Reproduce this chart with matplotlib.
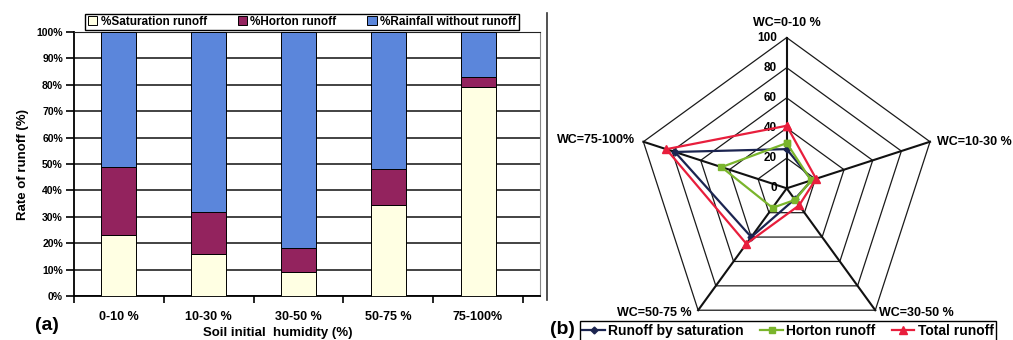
import numpy as np
import matplotlib
matplotlib.use("Agg")
import matplotlib.pyplot as plt
from matplotlib.lines import Line2D

plt.rcParams['font.family'] = ['Liberation Sans', 'DejaVu Sans']
plt.rcParams['font.weight'] = 'bold'

# ---- data (a) ----
humidity_classes = ["0-10 %", "10-30 %", "30-50 %", "50-75 %", "75-100%"]
saturation_pct = [23, 16, 9, 34.5, 79]
horton_pct = [26, 16, 9, 13.5, 4]
rainfall_pct = [100 - s - h for s, h in zip(saturation_pct, horton_pct)]
y_ticks = [0, 10, 20, 30, 40, 50, 60, 70, 80, 90, 100]

# ---- data (b) ----
wc_labels = ["WC=0-10 %", "WC=10-30 %", "WC=30-50 %", "WC=50-75 %", "WC=75-100%"]
radar_saturation = [26, 17.5, 9, 40, 78]
radar_horton = [30, 17, 9.5, 16, 45.5]
radar_total = [41.5, 20.5, 14, 45.5, 84]
radar_rings = [20, 40, 60, 80, 100]
radar_ticks = [0, 20, 40, 60, 80, 100]

W, H = 1013, 340
fig = plt.figure(figsize=(W / 100, H / 100), dpi=100)

def fx(px):
    return px / W

def fy(py):
    return 1 - py / H

# ---------------- panel (a) ----------------
ax = fig.add_axes([fx(74), fy(296), fx(540 - 74), (296 - 32) / H])
x = np.arange(len(humidity_classes))
cream = "#FFFFE3"
maroon = "#93235E"
blue = "#5B86DB"
bw = 0.39
ax.bar(x, saturation_pct, bw, color=cream, edgecolor="black", lw=0.7, zorder=3,
       label="%Saturation runoff")
ax.bar(x, horton_pct, bw, bottom=saturation_pct, color=maroon, edgecolor="black", lw=0.7,
       zorder=3, label="%Horton runoff")
ax.bar(x, rainfall_pct, bw, bottom=np.add(saturation_pct, horton_pct), color=blue,
       edgecolor="black", lw=0.7, zorder=3, label="%Rainfall without runoff")
ax.set_xlim(-0.5, 4.69)
ax.set_ylim(0, 100)
ax.set_yticks(y_ticks)
ax.set_yticklabels([f"{v}%" for v in y_ticks], fontsize=7.5, fontweight='bold')
ax.set_xticks(np.arange(len(humidity_classes) + 1) - 0.5)
ax.set_xticklabels([])
ax.set_xticks(x, minor=True)
ax.set_xticklabels(humidity_classes, minor=True, fontsize=9, fontweight='bold')
ax.tick_params(axis='x', which='minor', length=0, pad=11)
ax.tick_params(axis='x', which='major', length=5, direction='out', width=1.2)
ax.tick_params(axis='y', length=6, width=1.2, pad=2)
ax.yaxis.grid(True, color="#222222", lw=1.2, zorder=0)
ax.set_axisbelow(True)
for s in ['left', 'bottom']:
    ax.spines[s].set_linewidth(1.3)
ax.spines['right'].set_color("#888888")
ax.spines['top'].set_color("#222222")
ax.set_ylabel("Rate of runoff (%)", fontsize=9.5, fontweight='bold', labelpad=5)
fig.text(fx(278), fy(333), "Soil initial  humidity (%)", ha='center', va='center',
         fontsize=9.5, fontweight='bold')
fig.text(fx(35), fy(325), "(a)", ha='left', va='center', fontsize=14, fontweight='bold')
leg = fig.legend(loc='center', bbox_to_anchor=(fx(302), fy(22)), ncol=3,
                 fontsize=8.5, handlelength=0.8, handleheight=0.8, handletextpad=0.3,
                 columnspacing=2.6, borderpad=0.2, fancybox=False, framealpha=1,
                 edgecolor='black')
leg.get_frame().set_linewidth(1.0)
for t in leg.get_texts():
    t.set_fontweight('bold')

# separator
fig.add_artist(Line2D([fx(547), fx(547)], [fy(13), fy(300)], color='#333333', lw=1.2))

# ---------------- panel (b) ----------------
cx, cy, R = 786.7, 188.3, 150.7
scale = R / 100.0
ax2_left, ax2_right = 555, 1013
rax = fig.add_axes([fx(ax2_left), 0, fx(ax2_right - ax2_left), 1])
rax.set_xlim((ax2_left - cx) / scale, (ax2_right - cx) / scale)
rax.set_ylim((cy - H) / scale, cy / scale)
rax.axis('off')

n = len(wc_labels)
theta = np.deg2rad(90 - 72 * np.arange(n))
cos_t, sin_t = np.cos(theta), np.sin(theta)

def closed(vals):
    v = np.asarray(vals, dtype=float)
    xs = v * cos_t
    ys = v * sin_t
    return np.append(xs, xs[0]), np.append(ys, ys[0])

for r in radar_rings:
    xs, ys = closed([r] * n)
    rax.plot(xs, ys, color='#1a1a1a', lw=0.9, zorder=1)
for i in range(n):
    rax.plot([0, radar_rings[-1] * cos_t[i]], [0, radar_rings[-1] * sin_t[i]],
             color='#111111', lw=1.5, zorder=1)
for t in radar_ticks:
    rax.text(-6.5, t, str(t), ha='right', va='center', fontsize=8.5, fontweight='bold',
             zorder=2)

series = [
    (radar_saturation, "#1B2450", 'D', 3.5, "Runoff by saturation"),
    (radar_horton, "#7AB52C", 's', 5, "Horton runoff"),
    (radar_total, "#E81E3C", '^', 6, "Total runoff"),
]
handles = []
for vals, col, mk, ms, lab in series:
    xs, ys = closed(vals)
    h, = rax.plot(xs, ys, color=col, lw=1.6, marker=mk, ms=ms, zorder=3, label=lab)
    handles.append(h)

# category labels
lab_fs = 9
rax.text(0, 110, wc_labels[0], ha='center', va='center', fontsize=lab_fs, fontweight='bold')
rax.text((937 - cx) / scale, (cy - 141.7) / scale, wc_labels[1], ha='left', va='center',
         fontsize=lab_fs, fontweight='bold')
rax.text((879 - cx) / scale, (cy - 313) / scale, wc_labels[2], ha='left', va='center',
         fontsize=lab_fs, fontweight='bold')
rax.text((692 - cx) / scale, (cy - 313) / scale, wc_labels[3], ha='right', va='center',
         fontsize=lab_fs, fontweight='bold')
rax.text((635 - cx) / scale, (cy - 140) / scale, wc_labels[4], ha='right', va='center',
         fontsize=lab_fs, fontweight='bold')

leg2 = fig.legend(handles=handles, loc='center', bbox_to_anchor=(fx(788), fy(331)), ncol=3,
                  fontsize=10, handlelength=1.6, handletextpad=0.25, columnspacing=1.2,
                  borderpad=0.2, fancybox=False, framealpha=1, edgecolor='black')
leg2.get_frame().set_linewidth(1.0)
for t in leg2.get_texts():
    t.set_fontweight('bold')
fig.text(fx(550), fy(330), "(b)", ha='left', va='center', fontsize=14, fontweight='bold')

fig.savefig("out.png", dpi=100)
